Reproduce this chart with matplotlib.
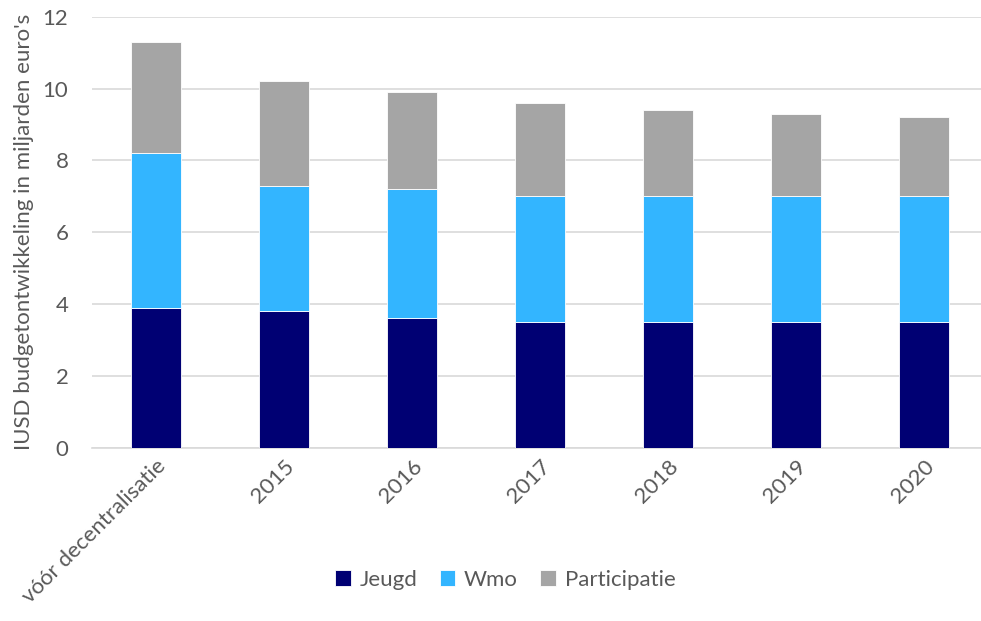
import numpy as np
import matplotlib
matplotlib.use('Agg')
import matplotlib.pyplot as plt

# ── data ──────────────────────────────────────────────────────────────────────
categories   = ['vóór decentralisatie', '2015', '2016', '2017', '2018', '2019', '2020']
jeugd        = [3.9, 3.8, 3.6, 3.5, 3.5, 3.5, 3.5]
wmo          = [4.3, 3.5, 3.6, 3.5, 3.5, 3.5, 3.5]
participatie = [3.1, 2.9, 2.7, 2.6, 2.4, 2.3, 2.2]

plt.rcParams['font.family'] = ['Lato', 'DejaVu Sans']
txt = '#595959'
fs = 16

fig = plt.figure(figsize=(9.81, 6.21), dpi=100)
ax = fig.add_axes([0.0938, 0.279, 0.913, 0.694])

x = np.arange(len(categories))
w = 0.39
j = np.array(jeugd)
m = np.array(wmo)
p = np.array(participatie)

ax.bar(x, j, w, color='#000073', edgecolor='white', linewidth=0.6, label='Jeugd', zorder=3)
ax.bar(x, m, w, bottom=j, color='#33B5FF', edgecolor='white', linewidth=0.6, label='Wmo', zorder=3)
ax.bar(x, p, w, bottom=j + m, color='#A5A5A5', edgecolor='white', linewidth=0.6,
       label='Participatie', zorder=3)

ax.set_xlim(-0.5, len(categories) - 0.5)
ax.set_ylim(0, 12)
ax.set_yticks(range(0, 13, 2))
ax.yaxis.grid(True, color='#D9D9D9', linewidth=1.2, zorder=0)
for s in ['top', 'right', 'left']:
    ax.spines[s].set_visible(False)
ax.spines['bottom'].set_color('#D9D9D9')
ax.spines['bottom'].set_linewidth(1.2)
ax.tick_params(axis='both', length=0, colors=txt, labelsize=fs)
ax.tick_params(axis='y', pad=17)
ax.tick_params(axis='x', pad=6)

ax.set_xticks(x)
ax.set_xticklabels(categories, rotation=45, ha='right', rotation_mode='anchor')
ax.set_ylabel("IUSD budgetontwikkeling in miljarden euro's", color=txt, fontsize=fs, labelpad=6)

fig.legend(loc='center', bbox_to_anchor=(0.515, 0.066), ncol=3, frameon=False,
           fontsize=fs, labelcolor=txt, handlelength=0.7, handleheight=0.7,
           handletextpad=0.4, columnspacing=1.0)

plt.savefig('out.png', dpi=100)
